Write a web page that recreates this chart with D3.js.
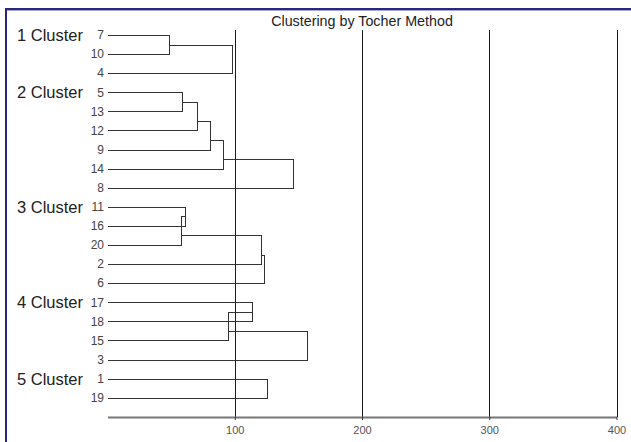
<!DOCTYPE html>
<html>
<head>
<meta charset="utf-8">
<script src="https://cdn.jsdelivr.net/npm/d3@7"></script>
<style>
  body { margin: 0; background: #fff; }
  svg { display: block; font-family: "Liberation Sans", Arial, sans-serif; }
</style>
</head>
<body>
<div id="chart"></div>
<script>
// cluster names and member order (top to bottom)
var clusterNames = ['1 Cluster', '2 Cluster', '3 Cluster', '4 Cluster', '5 Cluster'];
var leafOrder = ['7', '10', '4', '5', '13', '12', '9', '14', '8', '11', '16', '20', '2', '6', '17', '18', '15', '3', '1', '19'];
var clusterSizes = [3, 6, 5, 4, 2];
// distance at which each next member joins its cluster (sequential merges)
var mergeHeights = [
    [48.1, 98.1],
    [58.8, 70.4, 80.6, 90.8, 146.1],
    [61.2, 58.0, 120.7, 123.3],
    [113.8, 94.5, 157.1],
    [125.6]
];
var tickValues = [100, 200, 300, 400];

var width = 631,
    height = 442;

var svg = d3.select('#chart').append('svg')
    .attr('width', width)
    .attr('height', height);

svg.append('rect').attr('width', width).attr('height', height).attr('fill', '#fff');

// frame (top and left edges only visible)
svg.append('line').attr('x1', 5).attr('x2', width).attr('y1', 9).attr('y2', 9)
    .attr('stroke', '#2a2878').attr('stroke-width', 2);
svg.append('line').attr('x1', 5).attr('x2', width).attr('y1', 10.5).attr('y2', 10.5)
    .attr('stroke', '#a7a6d2').attr('stroke-width', 1);
svg.append('line').attr('x1', 6).attr('x2', 6).attr('y1', 8).attr('y2', height)
    .attr('stroke', '#2a2878').attr('stroke-width', 2);

var x = d3.scaleLinear().domain([0, 400]).range([107.5, 616.5]);
var y = d3.scalePoint().domain(leafOrder).range([35, 397.7]);

var axisY = 417;

// title
svg.append('text')
    .attr('x', (x(0) + x(400)) / 2)
    .attr('y', 26)
    .attr('text-anchor', 'middle')
    .style('font-size', '14.3px')
    .style('fill', '#222')
    .text('Clustering by Tocher Method');

// vertical reference lines
svg.selectAll('line.grid')
    .data(tickValues)
    .enter()
    .append('line')
    .attr('class', 'grid')
    .attr('x1', function(d) { return Math.round(x(d)) + 0.5; })
    .attr('x2', function(d) { return Math.round(x(d)) + 0.5; })
    .attr('y1', 30)
    .attr('y2', axisY)
    .attr('stroke', '#1a1a1a')
    .attr('stroke-width', 1);

// bottom axis
var axis = svg.append('g')
    .attr('transform', 'translate(0,' + axisY + ')')
    .call(d3.axisBottom(x).tickValues(tickValues).tickSize(3).tickSizeOuter(0));
axis.select('.domain').attr('stroke', '#777').attr('stroke-width', 2);
axis.selectAll('.tick line').attr('stroke', '#333');
axis.selectAll('.tick text')
    .attr('y', 9)
    .style('font-size', '11px')
    .style('font-family', '"Liberation Sans", Arial, sans-serif')
    .style('fill', '#555');

// leaf labels
svg.selectAll('text.leaf')
    .data(leafOrder)
    .enter()
    .append('text')
    .attr('class', 'leaf')
    .attr('x', 104)
    .attr('y', function(d) { return y(d); })
    .attr('dy', '0.36em')
    .attr('text-anchor', 'end')
    .style('font-size', '12px')
    .style('fill', '#444')
    .text(function(d) { return d; });

// build links for every cluster
var segs = [];
var start = 0;
clusterSizes.forEach(function(n, c) {
    var leaves = leafOrder.slice(start, start + n);
    var cur = { x: 0, y: y(leaves[0]) };
    for (var k = 1; k < n; k++) {
        var m = mergeHeights[c][k - 1];
        var ly = y(leaves[k]);
        segs.push([cur.x, cur.y, m, cur.y]);
        segs.push([0, ly, m, ly]);
        segs.push([m, cur.y, m, ly]);
        cur = { x: m, y: (y(leaves[k - 1]) + ly) / 2 };
    }
    svg.append('text')
        .attr('x', 17)
        .attr('y', y(leaves[0]))
        .attr('dy', '0.36em')
        .style('font-size', '16.5px')
        .style('fill', '#222')
        .text(clusterNames[c]);
    start += n;
});

svg.selectAll('line.link')
    .data(segs)
    .enter()
    .append('line')
    .attr('class', 'link')
    .attr('x1', function(d) { return Math.round(x(d[0])) + 0.5; })
    .attr('x2', function(d) { return Math.round(x(d[2])) + 0.5; })
    .attr('y1', function(d) { return Math.round(d[1]) + 0.5; })
    .attr('y2', function(d) { return Math.round(d[3]) + 0.5; })
    .attr('stroke', '#333')
    .attr('stroke-width', 1)
    .attr('stroke-linecap', 'square');
</script>
</body>
</html>
